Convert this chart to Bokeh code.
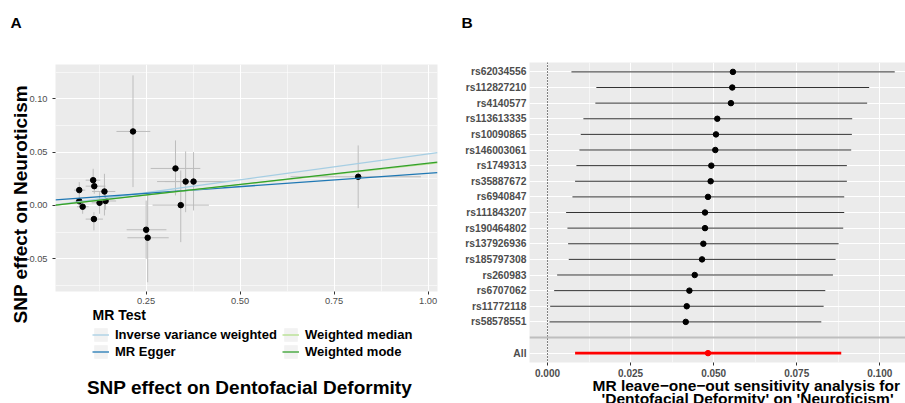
from bokeh.plotting import figure
from bokeh.models import (ColumnDataSource, FixedTicker, PrintfTickFormatter, Legend,
                          LegendItem, Title, Label, FactorRange, Range1d)
from bokeh.layouts import row, column
from bokeh.embed import file_html
from bokeh.resources import INLINE

FONT = "Liberation Sans"

# ---------------- Panel A data (SNP effects) ----------------
exp_b = [0.072, 0.072, 0.081, 0.109, 0.112, 0.111, 0.126, 0.139, 0.142, 0.215,
         0.250, 0.254, 0.328, 0.342, 0.355, 0.376, 0.814]
out_b = [0.0144, 0.0040, -0.0012, 0.0237, 0.0181, -0.0128, 0.0025, 0.0131, 0.0042, 0.0694,
         -0.0228, -0.0303, 0.0347, 0.0003, 0.0224, 0.0224, 0.0269]
exp_lo = [0.058, 0.060, 0.066, 0.089, 0.089, 0.089, 0.105, 0.106, 0.106, 0.171,
          0.198, 0.200, 0.262, 0.267, 0.279, 0.300, 0.634]
exp_hi = [0.088, 0.085, 0.097, 0.128, 0.142, 0.135, 0.148, 0.168, 0.170, 0.261,
          0.304, 0.310, 0.394, 0.417, 0.450, 0.470, 0.981]
out_lo = [0.0078, 0.0000, -0.0078, 0.0156, 0.0110, -0.0234, -0.0078, -0.0094, -0.0040, 0.0172,
          -0.0500, -0.0720, 0.0094, -0.0344, -0.0063, -0.0047, -0.0025]
out_hi = [0.0219, 0.0080, 0.0031, 0.0344, 0.0234, -0.0063, 0.0125, 0.0297, 0.0120, 0.1220,
          0.0046, 0.0114, 0.0610, 0.0328, 0.0507, 0.0500, 0.0563]

methods = ["Inverse variance weighted", "MR Egger", "Weighted median", "Weighted mode"]
method_slope = [0.0483, 0.0251, 0.0390, 0.0396]
method_intercept = [0.0, 0.0051, 0.0, 0.0]
method_color = ["#A6CEE3", "#1F78B4", "#B2DF8A", "#33A02C"]

xa_ticks = [0.25, 0.50, 0.75, 1.00]
xa_minor = [0.125, 0.375, 0.625, 0.875]
ya_ticks = [-0.05, 0.00, 0.05, 0.10]
ya_minor = [-0.075, -0.025, 0.025, 0.075, 0.125]
XA = (0.0088, 1.025)
YA = (-0.0807, 0.1322)

# ---------------- Panel B data (leave-one-out) ----------------
snps = ["rs62034556", "rs112827210", "rs4140577", "rs113613335", "rs10090865",
        "rs146003061", "rs1749313", "rs35887672", "rs6940847", "rs111843207",
        "rs190464802", "rs137926936", "rs185797308", "rs260983", "rs6707062",
        "rs11772118", "rs58578551"]
loo_b = [0.0558, 0.0556, 0.0552, 0.0511, 0.0507, 0.0505, 0.0493, 0.0491, 0.0483, 0.0474,
         0.0474, 0.0469, 0.0465, 0.0443, 0.0427, 0.0419, 0.0416]
loo_lo = [0.0072, 0.0147, 0.0144, 0.0108, 0.0100, 0.0096, 0.0087, 0.0083, 0.0075, 0.0056,
          0.0060, 0.0062, 0.0064, 0.0029, 0.0020, 0.0008, 0.0006]
loo_hi = [0.1045, 0.0968, 0.0962, 0.0917, 0.0916, 0.0914, 0.0901, 0.0901, 0.0893, 0.0893,
          0.0890, 0.0876, 0.0867, 0.0859, 0.0836, 0.0831, 0.0824]
all_label = "All"
all_b = 0.0483
all_lo = 0.0083
all_hi = 0.0884
xb_ticks = [0.000, 0.025, 0.050, 0.075, 0.100]
xb_minor = [0.0125, 0.0375, 0.0625, 0.0875, 0.1125]
XB = (-0.00542, 0.10774)


def style_axis(ax, size, bold=False, tick=True):
    ax.axis_line_color = None
    ax.minor_tick_line_color = None
    ax.major_tick_in = 0
    if tick:
        ax.major_tick_out = 3
        ax.major_tick_line_color = "#333333"
    else:
        ax.major_tick_out = 0
        ax.major_tick_line_color = None
    ax.major_label_text_font = FONT
    ax.major_label_text_font_size = size
    ax.major_label_text_color = "#4D4D4D"
    if bold:
        ax.major_label_text_font_style = "bold"


def style_grid(g):
    g.grid_line_color = "white"
    g.grid_line_width = 1.1
    g.minor_grid_line_color = "white"
    g.minor_grid_line_width = 0.55


def title(text, size, **kw):
    return Title(text=text, text_font=FONT, text_font_style="bold", text_font_size=size,
                 text_color="black", **kw)


# ================= Panel A =================
pA = figure(width=450, height=325, x_range=Range1d(*XA), y_range=Range1d(*YA),
            output_backend="svg", toolbar_location=None,
            min_border_left=55, min_border_right=13, min_border_top=64, min_border_bottom=34)
pA.background_fill_color = "#EBEBEB"
pA.outline_line_color = None

tx = FixedTicker(ticks=xa_ticks, minor_ticks=xa_minor)
ty = FixedTicker(ticks=ya_ticks, minor_ticks=ya_minor)
pA.xaxis.ticker = tx
pA.yaxis.ticker = ty
pA.xgrid.ticker = tx
pA.ygrid.ticker = ty
pA.xaxis.formatter = PrintfTickFormatter(format="%.2f")
pA.yaxis.formatter = PrintfTickFormatter(format="%.2f")
style_axis(pA.xaxis[0], "9.3px")
style_axis(pA.yaxis[0], "9.3px")
pA.xaxis.major_label_standoff = 2
pA.yaxis.major_label_standoff = 4
style_grid(pA.xgrid[0])
style_grid(pA.ygrid[0])

srcA = ColumnDataSource(dict(x=exp_b, y=out_b, xlo=exp_lo, xhi=exp_hi, ylo=out_lo, yhi=out_hi))
pA.segment(x0="x", x1="x", y0="ylo", y1="yhi", source=srcA, line_color="#BDBDBD", line_width=1)
pA.segment(x0="xlo", x1="xhi", y0="y", y1="y", source=srcA, line_color="#BDBDBD", line_width=1)
pA.scatter("x", "y", source=srcA, size=5.5, color="black")

for s, b0, c in zip(method_slope, method_intercept, method_color):
    xs = list(XA)
    ys = [b0 + s * v for v in xs]
    pA.line(xs, ys, line_color=c, line_width=1.3)

pA.add_layout(title("MR Test", "14px", align="left", offset=37,
                    vertical_align="top", standoff=0), "below")
pA.add_layout(title("SNP effect on Neuroticism", "19px", align="left", offset=-32,
                    vertical_align="bottom", standoff=-14), "left")
pA.add_layout(title("A\n\u00a0\n\u00a0", "15.5px", align="left", offset=-45,
                    vertical_align="top", standoff=-4), "above")

# ---- footer of panel A: legend keys and x-axis title ----
footA = figure(width=450, height=78, x_range=Range1d(0, 1), y_range=Range1d(1, 2),
               x_axis_location=None, y_axis_location=None, output_backend="svg",
               toolbar_location=None, min_border_left=55, min_border_right=13,
               min_border_top=0, min_border_bottom=0)
footA.grid.visible = False
footA.outline_line_color = None
footA.background_fill_color = "white"
key_box = footA.quad(left=[XA[0]], right=[XA[1]], bottom=[YA[0]], top=[YA[1]],
                     fill_color="#F2F2F2", line_color=None)
items = []
for m, s, b0, c in zip(methods, method_slope, method_intercept, method_color):
    xs = list(XA)
    ys = [b0 + s * v for v in xs]
    r = footA.line(xs, ys, line_color=c, line_width=1.3)
    items.append(LegendItem(label=m, renderers=[key_box, r]))

leg = Legend(items=items, location=(37, 43), orientation="vertical", nrows=2,
             label_text_font=FONT, label_text_font_style="bold", label_text_font_size="13px",
             label_text_color="black",
             glyph_width=17, glyph_height=17, label_height=16, label_standoff=6,
             label_width=167, spacing=0, padding=0, margin=0,
             background_fill_alpha=0, border_line_color=None)
footA.add_layout(leg)
footA.add_layout(Label(x=194, y=16.5, x_units="screen", y_units="screen",
                       text="SNP effect on Dentofacial Deformity", text_font=FONT,
                       text_font_style="bold", text_font_size="19px", text_color="black",
                       text_align="center", text_baseline="middle"))

# ================= Panel B =================
factors = [all_label, " "] + snps[::-1]
pB = figure(width=455, height=403, x_range=Range1d(*XB),
            y_range=FactorRange(factors=factors, range_padding=0.1, range_padding_units="absolute"),
            output_backend="svg", toolbar_location=None,
            min_border_left=79, min_border_right=0, min_border_top=62, min_border_bottom=41)
pB.background_fill_color = "#EBEBEB"
pB.outline_line_color = None
txb = FixedTicker(ticks=xb_ticks, minor_ticks=xb_minor)
pB.xaxis.ticker = txb
pB.xgrid.ticker = txb
pB.xaxis.formatter = PrintfTickFormatter(format="%.3f")
style_axis(pB.xaxis[0], "10px", bold=True)
style_axis(pB.yaxis[0], "10.3px", bold=True, tick=False)
pB.xaxis.major_label_standoff = 2
pB.yaxis.major_label_standoff = 3
style_grid(pB.xgrid[0])
style_grid(pB.ygrid[0])

pB.vspan(x=[0], line_color="black", line_dash="1 2", line_width=1)
srcB = ColumnDataSource(dict(snp=snps, b=loo_b, lo=loo_lo, hi=loo_hi))
pB.segment(x0="lo", x1="hi", y0="snp", y1="snp", source=srcB, line_color="#333333", line_width=1)
pB.segment(x0=[all_lo], x1=[all_hi], y0=[all_label], y1=[all_label], line_color="red", line_width=2.7)
pB.scatter("b", "snp", source=srcB, size=5.5, color="black")
pB.scatter([all_b], [all_label], size=5.5, color="red")
pB.hspan(y=[" "], line_color="#BEBEBE", line_width=2)

pB.add_layout(title("MR leave\u2212one\u2212out sensitivity analysis for", "15.5px", align="left",
                    offset=63, vertical_align="top", standoff=-6), "below")
pB.add_layout(title("'Dentofacial Deformity' on 'Neuroticism'", "15.5px", align="left",
                    offset=72, vertical_align="bottom", standoff=-9), "below")
pB.add_layout(title("B\n\u00a0\n\u00a0", "15.5px", align="left", offset=-68,
                    vertical_align="top", standoff=-8), "above")

layout = row(column(pA, footA), column(pB))
open("out.html", "w").write(file_html(layout, INLINE))
